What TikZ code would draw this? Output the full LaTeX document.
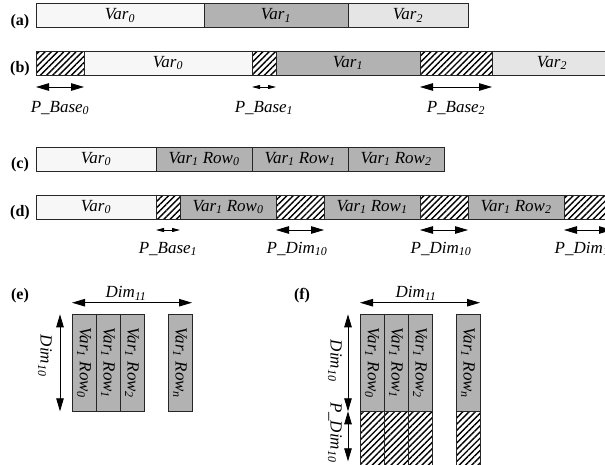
\documentclass[tikz,border=0pt]{standalone}
\usepackage{fontspec}
\setmainfont{Liberation Serif}
\usetikzlibrary{arrows.meta,patterns.meta}

\definecolor{varzero}{gray}{0.97}
\definecolor{varone}{gray}{0.70}
\definecolor{vartwo}{gray}{0.90}

\begin{document}
\begin{tikzpicture}[
  x=1pt, y=-1pt,
  cell/.style={draw=black!85, line width=0.8pt, inner sep=0pt, outer sep=0pt, anchor=north west, minimum height=24pt, font=\fontsize{17}{20}\selectfont\itshape},
  vzero/.style={cell, fill=varzero},
  vone/.style={cell, fill=varone},
  vtwo/.style={cell, fill=vartwo},
  pad/.style={cell, pattern={Lines[angle=45,distance=4.4pt,line width=1.4pt]}},
  colbox/.style={vone, minimum width=24pt, minimum height=97pt},
  coltext/.style={rotate=-90, inner sep=0pt, font=\fontsize{17}{20}\selectfont\itshape},
  tag/.style={anchor=base, font=\fontsize{16}{18}\selectfont\bfseries},
  dimlbl/.style={anchor=base, inner sep=0pt, font=\fontsize{17}{20}\selectfont\itshape},
  dimarr/.style={{Triangle[length=13pt,width=7.5pt]}-{Triangle[length=13pt,width=7.5pt]}, line width=0.8pt},
  tinyarr/.style={{Triangle[length=8pt,width=4pt]}-{Triangle[length=8pt,width=4pt]}, line width=0.8pt}
]
  \useasboundingbox (0,0) rectangle (605,464);

  % (a) variables packed
  \node[tag] (ta) at (20,25) {(a)};
  \node[vzero, minimum width=168pt] (a0) at (36,3.5) {Var\textsubscript{0}};
  \node[vone, minimum width=144pt] (a1) at (a0.north east) {Var\textsubscript{1}};
  \node[vtwo, minimum width=120pt] (a2) at (a1.north east) {Var\textsubscript{2}};

  % (b) variables with base padding
  \node[tag] (tb) at (20,72) {(b)};
  \node[pad, minimum width=48pt] (bp0) at (36,51) {};
  \node[vzero, minimum width=168pt] (b0) at (bp0.north east) {Var\textsubscript{0}};
  \node[pad, minimum width=24pt] (bp1) at (b0.north east) {};
  \node[vone, minimum width=144pt] (b1) at (bp1.north east) {Var\textsubscript{1}};
  \node[pad, minimum width=72pt] (bp2) at (b1.north east) {};
  \node[vtwo, minimum width=120pt] (b2) at (bp2.north east) {Var\textsubscript{2}};

  \draw[dimarr] ([yshift=-12pt]bp0.south west) -- ([yshift=-12pt]bp0.south east);
  \draw[tinyarr] ([yshift=-12pt]bp1.south west) -- ([yshift=-12pt]bp1.south east);
  \draw[dimarr] ([yshift=-12pt]bp2.south west) -- ([yshift=-12pt]bp2.south east);
  \node[dimlbl] (lb0) at ([yshift=-37pt]bp0.south) {P\_Base\textsubscript{0}};
  \node[dimlbl] (lb1) at ([yshift=-37pt]bp1.south) {P\_Base\textsubscript{1}};
  \node[dimlbl] (lb2) at ([yshift=-37pt]bp2.south) {P\_Base\textsubscript{2}};

  % (c) rows of Var1
  \node[tag] (tc) at (20,168) {(c)};
  \node[vzero, minimum width=120pt] (c0) at (36,147) {Var\textsubscript{0}};
  \node[vone, minimum width=96pt] (c1) at (c0.north east) {Var\textsubscript{1} Row\textsubscript{0}};
  \node[vone, minimum width=96pt] (c2) at (c1.north east) {Var\textsubscript{1} Row\textsubscript{1}};
  \node[vone, minimum width=96pt] (c3) at (c2.north east) {Var\textsubscript{1} Row\textsubscript{2}};

  % (d) rows with dimension padding
  \node[tag] (td) at (20,216) {(d)};
  \node[vzero, minimum width=120pt] (d0) at (36,195) {Var\textsubscript{0}};
  \node[pad, minimum width=24pt] (dp0) at (d0.north east) {};
  \node[vone, minimum width=96pt] (d1) at (dp0.north east) {Var\textsubscript{1} Row\textsubscript{0}};
  \node[pad, minimum width=48pt] (dp1) at (d1.north east) {};
  \node[vone, minimum width=96pt] (d2) at (dp1.north east) {Var\textsubscript{1} Row\textsubscript{1}};
  \node[pad, minimum width=48pt] (dp2) at (d2.north east) {};
  \node[vone, minimum width=96pt] (d3) at (dp2.north east) {Var\textsubscript{1} Row\textsubscript{2}};
  \node[pad, minimum width=48pt] (dp3) at (d3.north east) {};

  \draw[tinyarr] ([yshift=-11pt]dp0.south west) -- ([yshift=-11pt]dp0.south east);
  \draw[dimarr] ([yshift=-11pt]dp1.south west) -- ([yshift=-11pt]dp1.south east);
  \draw[dimarr] ([yshift=-11pt]dp2.south west) -- ([yshift=-11pt]dp2.south east);
  \draw[dimarr] ([yshift=-11pt]dp3.south west) -- ([yshift=-11pt]dp3.south east);
  \node[dimlbl] (ld0) at ([yshift=-34pt]dp0.south) {P\_Base\textsubscript{1}};
  \node[dimlbl] (ld1) at ([yshift=-34pt,xshift=-3pt]dp1.south) {P\_Dim\textsubscript{10}};
  \node[dimlbl] (ld2) at ([yshift=-34pt,xshift=-3pt]dp2.south) {P\_Dim\textsubscript{10}};
  \node[dimlbl] (ld3) at ([yshift=-34pt,xshift=-3pt]dp3.south) {P\_Dim\textsubscript{10}};

  % (e) 2D array, no padding
  \node[tag] (te) at (20,299) {(e)};
  \node[colbox] (e0) at (72,314.3) {};
  \node[colbox] (e1) at (e0.north east) {};
  \node[colbox] (e2) at (e1.north east) {};
  \node[colbox] (e3) at (168,314.3) {};
  \node[coltext] (e0t) at (e0.center) {Var\textsubscript{1} Row\textsubscript{0}};
  \node[coltext] (e1t) at (e1.center) {Var\textsubscript{1} Row\textsubscript{1}};
  \node[coltext] (e2t) at (e2.center) {Var\textsubscript{1} Row\textsubscript{2}};
  \node[coltext] (e3t) at (e3.center) {Var\textsubscript{1} Row\textsubscript{\textit{n}}};

  \draw[dimarr] ([yshift=11.6pt]e0.north west) -- node[dimlbl, yshift=5pt, xshift=-6pt] (ehd) {Dim\textsubscript{11}} ([yshift=11.6pt]e3.north east);
  \draw[dimarr] ([xshift=-12pt]e0.north west) -- ([xshift=-12pt]e0.south west);
  \node[coltext] (evd) at ([xshift=-27pt,yshift=7pt]e0.west) {Dim\textsubscript{10}};

  % (f) 2D array with row padding
  \node[tag] (tf) at (302,299) {(f)};
  \node[colbox] (f0) at (360,314.3) {};
  \node[colbox] (f1) at (f0.north east) {};
  \node[colbox] (f2) at (f1.north east) {};
  \node[colbox] (f3) at (456,314.3) {};
  \node[coltext] (f0t) at (f0.center) {Var\textsubscript{1} Row\textsubscript{0}};
  \node[coltext] (f1t) at (f1.center) {Var\textsubscript{1} Row\textsubscript{1}};
  \node[coltext] (f2t) at (f2.center) {Var\textsubscript{1} Row\textsubscript{2}};
  \node[coltext] (f3t) at (f3.center) {Var\textsubscript{1} Row\textsubscript{\textit{n}}};
  \node[pad, minimum width=24pt, minimum height=60pt] (fp0) at (f0.south west) {};
  \node[pad, minimum width=24pt, minimum height=60pt] (fp1) at (f1.south west) {};
  \node[pad, minimum width=24pt, minimum height=60pt] (fp2) at (f2.south west) {};
  \node[pad, minimum width=24pt, minimum height=60pt] (fp3) at (f3.south west) {};

  \draw[dimarr] ([yshift=11.6pt]f0.north west) -- node[dimlbl, yshift=5pt, xshift=-4pt] (fhd) {Dim\textsubscript{11}} ([yshift=11.6pt]f3.north east);
  \draw[dimarr] ([xshift=-12pt]f0.north west) -- ([xshift=-12pt]f0.south west);
  \draw[dimarr] ([xshift=-12pt]fp0.north west) -- ([xshift=-12pt,yshift=10pt]fp0.south west);
  \node[coltext] (fvd) at ([xshift=-25pt,yshift=2pt]f0.west) {Dim\textsubscript{10}};
  \node[coltext] (fvp) at ([xshift=-25pt,yshift=9pt]fp0.west) {P\_Dim\textsubscript{10}};
\end{tikzpicture}
\end{document}
